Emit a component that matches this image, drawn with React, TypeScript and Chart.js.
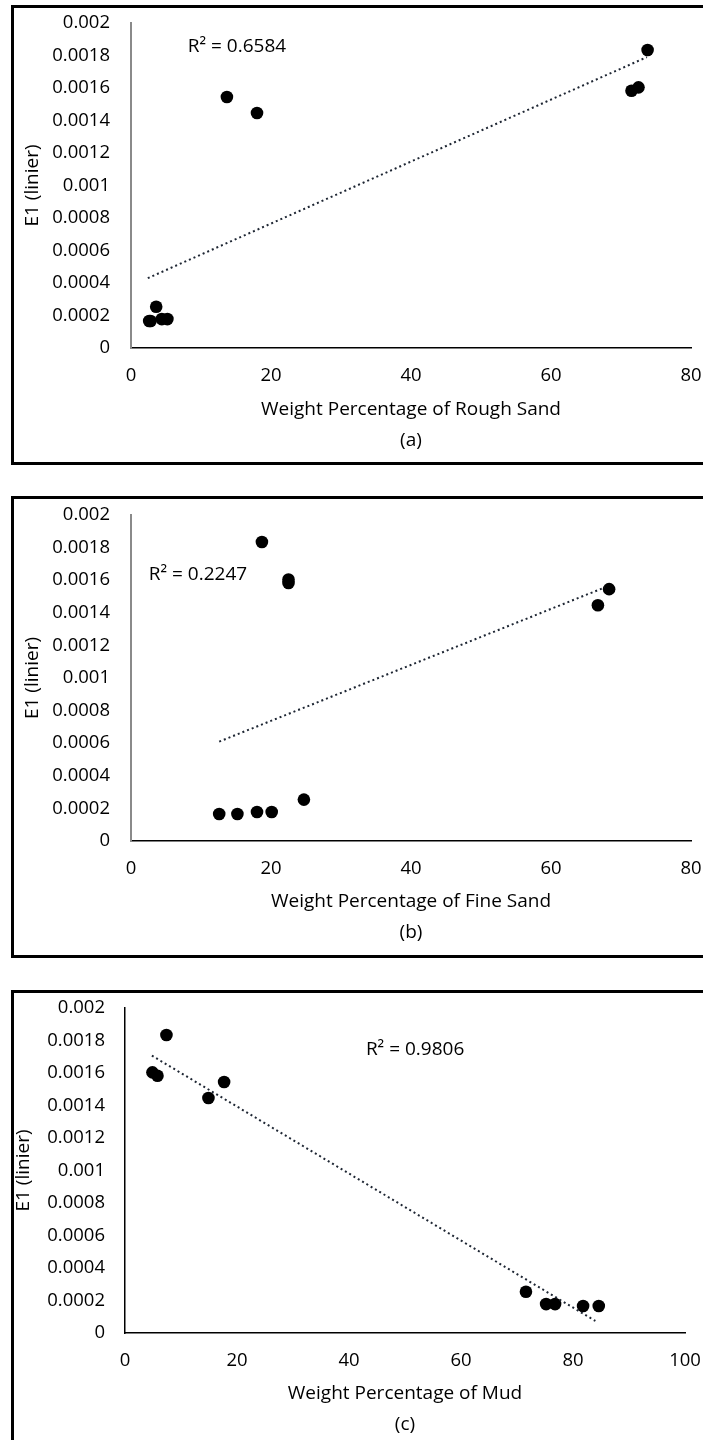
import React, { useEffect, useRef } from "react";
import { Chart, registerables } from "chart.js";

Chart.register(...registerables);

// ---- data ----
const e1Values = [0.000166, 0.000166, 0.000178, 0.000178, 0.000254, 0.001446, 0.001545, 0.001583, 0.001604, 0.001834];
const roughSandPct = [2.6, 2.8, 4.4, 5.2, 3.6, 18.0, 13.7, 71.5, 72.5, 73.8];
const fineSandPct = [12.6, 15.2, 18.0, 20.1, 24.7, 66.7, 68.3, 22.5, 22.5, 18.7];
const mudPct = [84.6, 81.8, 76.8, 75.2, 71.6, 14.9, 17.7, 5.8, 4.9, 7.4];

const trendRoughX = [2.4, 73.7];
const trendRoughY = [0.00043, 0.00179];
const trendFineX = [12.6, 67.7];
const trendFineY = [0.00061, 0.001556];
const trendMudX = [4.8, 84.0];
const trendMudY = [0.001707, 0.000074];

const r2Labels = ["R\u00B2 = 0.6584", "R\u00B2 = 0.2247", "R\u00B2 = 0.9806"];
const xTitles = ["Weight Percentage of Rough Sand", "Weight Percentage of Fine Sand", "Weight Percentage of Mud"];
const panelTags = ["(a)", "(b)", "(c)"];
const yTitle = "E1 (linier)";
const yTickLabels = ["0", "0.0002", "0.0004", "0.0006", "0.0008", "0.001", "0.0012", "0.0014", "0.0016", "0.0018", "0.002"];
const xMaxes = [80, 80, 100];

const FONT = "'Open Sans', sans-serif";
const FS_TICK = 18.5;
const FS = 19;

type PanelProps = {
  xs: number[];
  ys: number[];
  tx: number[];
  ty: number[];
  xMax: number;
  xTitle: string;
  tag: string;
  r2: string;
  r2At: [number, number];
  top: number;
  height: number;
  area: { top: number; left: number; right: number; bottom: number };
  yAxisColor: string;
  yAxisWidth: number;
  yTitlePad: number;
  yTickPad: number;
  xTitlePadBottom: number;
};

function Panel(p: PanelProps) {
  const ref = useRef<HTMLCanvasElement | null>(null);
  useEffect(() => {
    if (!ref.current) return;
    const adj = { left: 0, bottom: 0 };
    const r2Plugin = {
      id: "r2label",
      afterDraw(chart: any) {
        const ctx = chart.ctx;
        const x = chart.scales.x.getPixelForValue(p.r2At[0]);
        const y = chart.scales.y.getPixelForValue(p.r2At[1]);
        ctx.save();
        ctx.font = `${FS}px ${FONT}`;
        ctx.fillStyle = "#000";
        ctx.textAlign = "center";
        ctx.textBaseline = "middle";
        ctx.fillText(p.r2, x, y);
        ctx.restore();
      },
    };
    const chart: any = new Chart(ref.current, {
      type: "scatter",
      data: {
        datasets: [
          {
            data: p.tx.map((x, i) => ({ x, y: p.ty[i] })),
            showLine: true,
            borderColor: "#1e2633",
            borderWidth: 2,
            borderDash: [2, 3],
            pointRadius: 0,
            fill: false,
          },
          {
            data: p.xs.map((x, i) => ({ x, y: p.ys[i] })),
            pointRadius: 6.3,
            pointBackgroundColor: "#000",
            pointBorderWidth: 0,
            showLine: false,
          },
        ],
      },
      options: {
        responsive: false,
        animation: false,
        devicePixelRatio: 1,
        layout: { autoPadding: false, padding: { top: p.area.top, right: 703 - p.area.right, left: 0, bottom: 0 } },
        plugins: { legend: { display: false }, tooltip: { enabled: false } },
        scales: {
          x: {
            type: "linear",
            min: 0,
            max: p.xMax,
            grid: { display: false, drawTicks: false },
            border: { display: true, color: "#000", width: 1.5 },
            ticks: { stepSize: 20, padding: 17, color: "#000", font: { family: FONT, size: FS_TICK } },
            title: {
              display: true,
              text: [p.xTitle, p.tag],
              color: "#000",
              font: { family: FONT, size: FS, lineHeight: "31px" },
              padding: { top: 0, bottom: p.xTitlePadBottom },
            },
            afterFit(s: any) {
              s.height = p.height - p.area.bottom + adj.bottom;
              s.paddingLeft = 0;
              s.paddingRight = 0;
            },
          },
          y: {
            type: "linear",
            min: 0,
            max: 0.002,
            grid: { display: false, drawTicks: false },
            border: { display: true, color: p.yAxisColor, width: p.yAxisWidth },
            ticks: {
              stepSize: 0.0002,
              padding: p.yTickPad,
              color: "#000",
              font: { family: FONT, size: FS_TICK },
              callback: (_v: any, i: number) => yTickLabels[i],
            },
            title: {
              display: true,
              text: yTitle,
              color: "#000",
              font: { family: FONT, size: FS },
              padding: { top: p.yTitlePad, bottom: 0 },
            },
            afterFit(s: any) {
              s.width = p.area.left + adj.left;
              s.paddingTop = 0;
              s.paddingBottom = 0;
            },
          },
        },
      },
      plugins: [r2Plugin],
    } as any);
    // make the plot area land exactly where the reference has it
    for (let k = 0; k < 4; k++) {
      const ca = chart.chartArea;
      const pad = chart.options.layout.padding;
      const dTop = ca.top - p.area.top;
      const dRight = ca.right - p.area.right;
      const dLeft = ca.left - p.area.left;
      const dBottom = ca.bottom - p.area.bottom;
      if (Math.abs(dTop) + Math.abs(dRight) + Math.abs(dLeft) + Math.abs(dBottom) < 0.5) break;
      pad.top = Math.max(0, pad.top - dTop);
      pad.right = Math.max(0, pad.right + dRight);
      adj.left -= dLeft;
      adj.bottom += dBottom;
      chart.update();
    }
    return () => chart.destroy();
  }, []);
  return (
    <canvas
      ref={ref}
      width={703}
      height={p.height}
      style={{ position: "absolute", left: 0, top: p.top, width: 703, height: p.height }}
    />
  );
}

function Box({ top, height, openBottom }: { top: number; height: number; openBottom?: boolean }) {
  return (
    <div
      style={{
        position: "absolute",
        left: 11,
        top,
        width: 692,
        height,
        boxSizing: "border-box",
        borderTop: "3px solid #000",
        borderLeft: "3px solid #000",
        borderBottom: openBottom ? "none" : "3px solid #000",
        borderRight: "none",
        pointerEvents: "none",
      }}
    />
  );
}

export default function App() {
  return (
    <div
      style={{
        position: "absolute",
        left: 0,
        top: 0,
        width: 703,
        height: 1440,
        overflow: "hidden",
        background: "#fff",
      }}
    >
      <Panel
        xs={roughSandPct}
        ys={e1Values}
        tx={trendRoughX}
        ty={trendRoughY}
        xMax={xMaxes[0]}
        xTitle={xTitles[0]}
        tag={panelTags[0]}
        r2={r2Labels[0]}
        r2At={[15.14, 0.001852]}
        top={0}
        height={470}
        area={{ top: 23, left: 131, right: 691, bottom: 348 }}
        yAxisColor="#8a8a8a"
        yAxisWidth={2}
        yTitlePad={21}
        yTickPad={21}
        xTitlePadBottom={14}
      />
      <Panel
        xs={fineSandPct}
        ys={e1Values}
        tx={trendFineX}
        ty={trendFineY}
        xMax={xMaxes[1]}
        xTitle={xTitles[1]}
        tag={panelTags[1]}
        r2={r2Labels[1]}
        r2At={[9.57, 0.001636]}
        top={490}
        height={470}
        area={{ top: 25, left: 131, right: 691, bottom: 351 }}
        yAxisColor="#8a8a8a"
        yAxisWidth={2}
        yTitlePad={21}
        yTickPad={21}
        xTitlePadBottom={11.5}
      />
      <Panel
        xs={mudPct}
        ys={e1Values}
        tx={trendMudX}
        ty={trendMudY}
        xMax={xMaxes[2]}
        xTitle={xTitles[2]}
        tag={panelTags[2]}
        r2={r2Labels[2]}
        r2At={[51.8, 0.001742]}
        top={985}
        height={455}
        area={{ top: 23, left: 125, right: 685, bottom: 348 }}
        yAxisColor="#000"
        yAxisWidth={1.5}
        yTitlePad={12}
        yTickPad={20}
        xTitlePadBottom={0}
      />
      <Box top={5} height={460} />
      <Box top={496} height={462} />
      <Box top={990} height={450} openBottom />
    </div>
  );
}
